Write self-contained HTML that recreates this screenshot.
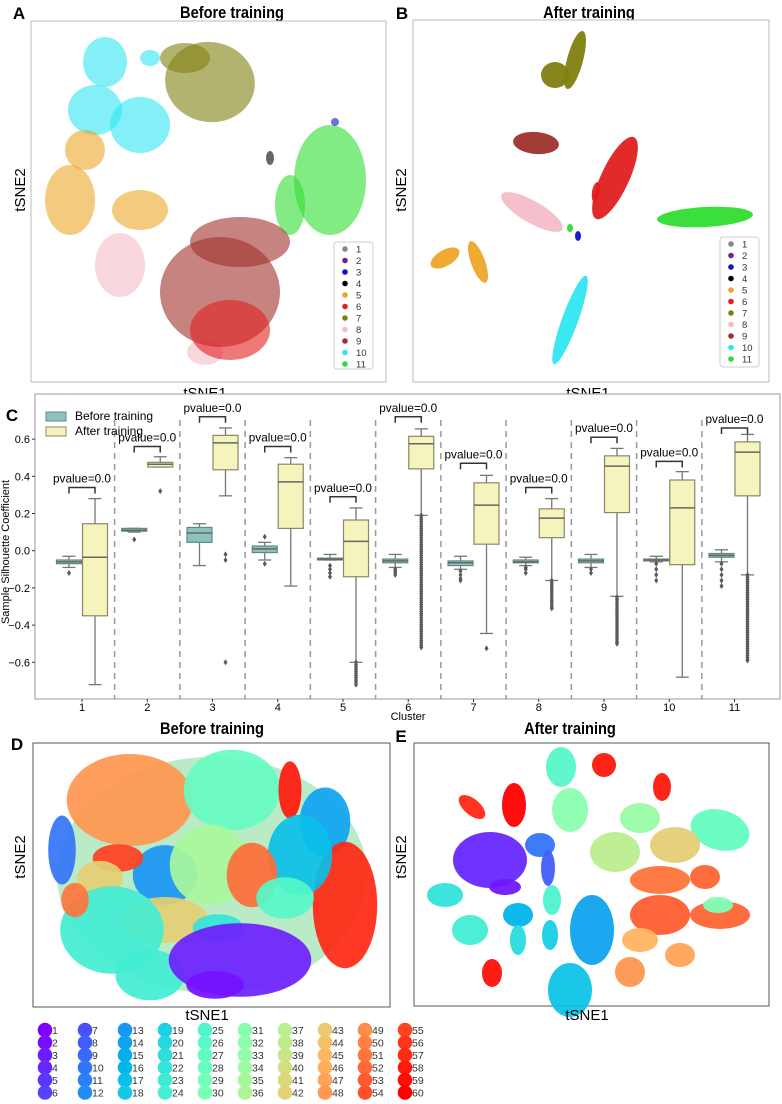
<!DOCTYPE html>
<html><head><meta charset="utf-8">
<style>
html,body{margin:0;padding:0;background:#fff;}
svg{display:block;font-family:"Liberation Sans",sans-serif;}
</style></head>
<body>
<svg id="fig" width="782" height="1104" viewBox="0 0 782 1104" xmlns="http://www.w3.org/2000/svg">
<rect x="0" y="0" width="782" height="1104" fill="#fff"/>
<!-- Panel A -->
<g id="panelA">
<text x="19" y="19" font-size="17" font-weight="bold" text-anchor="middle">A</text>
<text x="232" y="18" font-size="17" font-weight="bold" text-anchor="middle" transform="translate(232 0) scale(0.86 1) translate(-232 0)">Before training</text>
<rect x="31" y="21" width="355" height="361" fill="#fff" stroke="#bbb"/>
<g id="blobsA"></g>
<text x="25" y="190" font-size="15" text-anchor="middle" transform="rotate(-90 25 190)">tSNE2</text>
<text x="205" y="398" font-size="15" text-anchor="middle">tSNE1</text>
<g id="legA"></g>
</g>
<!-- Panel B -->
<g id="panelB">
<text x="402" y="19" font-size="17" font-weight="bold" text-anchor="middle">B</text>
<text x="589" y="18" font-size="17" font-weight="bold" text-anchor="middle" transform="translate(589 0) scale(0.86 1) translate(-589 0)">After training</text>
<rect x="413" y="20" width="356" height="362" fill="#fff" stroke="#bbb"/>
<g id="blobsB"></g>
<text x="406" y="190" font-size="15" text-anchor="middle" transform="rotate(-90 406 190)">tSNE2</text>
<text x="588" y="398" font-size="15" text-anchor="middle">tSNE1</text>
<g id="legB"></g>
</g>
<!-- Panel C -->
<g id="panelC">
<text x="12" y="421" font-size="17" font-weight="bold" text-anchor="middle">C</text>
<rect x="35" y="394" width="745" height="305" fill="#fff" stroke="#999"/>
<g id="boxC"></g>
<text x="9" y="552" font-size="11" text-anchor="middle" transform="rotate(-90 9 552)">Sample Silhouette Coefficient</text>
<text x="408" y="720" font-size="11" text-anchor="middle">Cluster</text>
<g>
<rect x="46" y="412" width="20" height="9" fill="#8cc4bb" stroke="#5e8a84"/>
<text x="75" y="420" font-size="12">Before training</text>
<rect x="46" y="427" width="20" height="9" fill="#f6f4bd" stroke="#8a8766"/>
<text x="75" y="435" font-size="12">After training</text>
</g>
</g>
<!-- Panel D -->
<g id="panelD">
<text x="17" y="750" font-size="17" font-weight="bold" text-anchor="middle">D</text>
<text x="212" y="734" font-size="17" font-weight="bold" text-anchor="middle" transform="translate(212 0) scale(0.86 1) translate(-212 0)">Before training</text>
<rect x="33" y="743" width="357" height="264" fill="#fff" stroke="#555"/>
<ellipse cx="212" cy="875" rx="155" ry="118" fill="#a8e6b8" fill-opacity="0.8"/>
<g id="blobsD"></g>
<text x="25" y="857" font-size="15" text-anchor="middle" transform="rotate(-90 25 857)">tSNE2</text>
<text x="207" y="1020" font-size="15" text-anchor="middle">tSNE1</text>
<g id="legD"></g>
</g>
<!-- Panel E -->
<g id="panelE">
<text x="401" y="742" font-size="17" font-weight="bold" text-anchor="middle">E</text>
<text x="570" y="734" font-size="17" font-weight="bold" text-anchor="middle" transform="translate(570 0) scale(0.86 1) translate(-570 0)">After training</text>
<rect x="414" y="743" width="355" height="263" fill="#fff" stroke="#555"/>
<g id="blobsE"></g>
<text x="406" y="857" font-size="15" text-anchor="middle" transform="rotate(-90 406 857)">tSNE2</text>
<text x="587" y="1020" font-size="15" text-anchor="middle">tSNE1</text>
</g>
</svg>
<script>
var NS="http://www.w3.org/2000/svg";
// ---- Panel C data ----
var clusters=["1","2","3","4","5","6","7","8","9","10","11"];
var beforeQ1=[-0.07,0.105,0.045,-0.01,-0.05,-0.065,-0.08,-0.065,-0.065,-0.055,-0.035];
var beforeMed=[-0.06,0.11,0.095,0.01,-0.045,-0.055,-0.065,-0.06,-0.055,-0.05,-0.025];
var beforeQ3=[-0.05,0.12,0.125,0.025,-0.04,-0.045,-0.055,-0.05,-0.045,-0.045,-0.015];
var beforeLo=[-0.09,0.1,-0.08,-0.05,-0.05,-0.09,-0.1,-0.08,-0.09,-0.06,-0.06];
var beforeHi=[-0.03,0.12,0.145,0.045,-0.02,-0.02,-0.03,-0.035,-0.02,-0.03,0.005];
var beforeOutliers=[[-0.12],[0.06],[],[0.075,-0.07],[-0.08,-0.1,-0.12,-0.14],[-0.1,-0.11,-0.12,-0.13],[-0.11,-0.13,-0.15,-0.16],[-0.09,-0.1,-0.12],[-0.1,-0.12],[-0.07,-0.1,-0.13,-0.16],[-0.07,-0.1,-0.13,-0.16,-0.19]];
var afterQ1=[-0.35,0.45,0.435,0.12,-0.14,0.44,0.035,0.07,0.205,-0.075,0.295];
var afterMed=[-0.035,0.465,0.58,0.37,0.05,0.575,0.245,0.175,0.455,0.23,0.53];
var afterQ3=[0.145,0.475,0.62,0.465,0.165,0.615,0.365,0.225,0.51,0.38,0.585];
var afterLo=[-0.72,0.45,0.295,-0.19,-0.6,0.19,-0.445,-0.16,-0.245,-0.68,-0.13];
var afterHi=[0.28,0.505,0.66,0.5,0.23,0.655,0.405,0.28,0.55,0.425,0.625];
var afterOutliers=[[],[0.32],[-0.02,-0.05,-0.6],[],[],[],[-0.525],[],[],[],[]];
var afterOutlierRuns=[[],[],[],[],[-0.6,-0.72],[0.19,-0.52],[],[-0.16,-0.31],[-0.25,-0.5],[],[-0.13,-0.59]];
var bracketLevel=[0.34,0.56,0.72,0.56,0.29,0.72,0.47,0.34,0.61,0.48,0.66];
var yTicks=[0.6,0.4,0.2,0.0,-0.2,-0.4,-0.6];
var yTickLabels=["0.6","0.4","0.2","0.0","\u22120.2","\u22120.4","\u22120.6"];

function yC(v){return 550.7-v*186;}
function xC(i){return 82+65.25*i;}
function mk(tag,attrs,parent){var e=document.createElementNS(NS,tag);for(var k in attrs)e.setAttribute(k,attrs[k]);parent.appendChild(e);return e;}

var gC=document.getElementById('boxC');
yTicks.forEach(function(v,i){
  var t=mk('line',{x1:32,x2:35,y1:yC(v),y2:yC(v),stroke:'#333'},gC);
  
  
  var l=mk('text',{x:30,y:yC(v)+4,'font-size':11,'text-anchor':'end'},gC);
  l.textContent=yTickLabels[i];
  
  
});
for(var s=0;s<clusters.length-1;s++){
  var d=mk('line',{x1:xC(s)+32.6,x2:xC(s)+32.6,y1:420,y2:699,stroke:'#999','stroke-width':1.5,'stroke-dasharray':'6,5'},gC);
  
  
}
function drawBox(cx,q1,med,q3,lo,hi,fill,edge,name){
  var g=mk('g',{},gC);
  
  
  mk('line',{x1:cx,x2:cx,y1:yC(hi),y2:yC(q3),stroke:'#777','stroke-width':1.3},g);
  mk('line',{x1:cx,x2:cx,y1:yC(q1),y2:yC(lo),stroke:'#777','stroke-width':1.3},g);
  mk('line',{x1:cx-6.5,x2:cx+6.5,y1:yC(hi),y2:yC(hi),stroke:'#777','stroke-width':1.3},g);
  mk('line',{x1:cx-6.5,x2:cx+6.5,y1:yC(lo),y2:yC(lo),stroke:'#777','stroke-width':1.3},g);
  var top=yC(q3),bot=yC(q1);
  mk('rect',{x:cx-12.5,y:top,width:25,height:Math.max(bot-top,1.5),fill:fill,stroke:edge,'stroke-width':1.2},g);
  mk('line',{x1:cx-12.5,x2:cx+12.5,y1:yC(med),y2:yC(med),stroke:'#666','stroke-width':1.5},g);
  return g;
}
function dot(cx,v,g){
  var y=yC(v);
  mk('path',{d:'M'+cx+' '+(y-3)+' L'+(cx+2)+' '+y+' L'+cx+' '+(y+3)+' L'+(cx-2)+' '+y+'Z',fill:'#5a5a5a'},g);
}
clusters.forEach(function(c,i){
  var cb=xC(i)-13, ca=xC(i)+13;
  var gb=drawBox(cb,beforeQ1[i],beforeMed[i],beforeQ3[i],beforeLo[i],beforeHi[i],'#8cc4bb','#5e8a84','box-before-'+c);
  beforeOutliers[i].forEach(function(v){dot(cb,v,gb);});
  var ga=drawBox(ca,afterQ1[i],afterMed[i],afterQ3[i],afterLo[i],afterHi[i],'#f6f4bd','#8a8766','box-after-'+c);
  afterOutliers[i].forEach(function(v){dot(ca,v,ga);});
  var run=afterOutlierRuns[i];
  if(run.length){
    for(var v=run[0];v>=run[1];v-=0.012){dot(ca,v,ga);}
    dot(ca,run[1],ga);
  }
  var by=yC(bracketLevel[i]);
  var br=mk('path',{d:'M'+cb+' '+(by+6)+' V'+by+' H'+ca+' V'+(by+6),fill:'none',stroke:'#333','stroke-width':1.5},gC);
  
  
  var pt=mk('text',{x:xC(i),y:by-5,'font-size':12,'text-anchor':'middle',textLength:58,lengthAdjust:'spacingAndGlyphs'},gC);
  pt.textContent='pvalue=0.0';
  
  
  var xl=mk('text',{x:xC(i),y:711,'font-size':11,'text-anchor':'middle'},gC);
  xl.textContent=c;
  
  
  var xt=mk('line',{x1:xC(i),x2:xC(i),y1:699,y2:702,stroke:'#333'},gC);
  
  
});

// ---- Scatter blobs ----
var colorsAB=['#888888','#7a1f8a','#1010c8','#000000','#eda628','#e21f1f','#808010','#f4bcc8','#a0302c','#30e6f2','#30dd30'];
var labelsAB=["1","2","3","4","5","6","7","8","9","10","11"];
var blobsA=[[105,62,22,25,0,9],[150,58,10,8,0,9],[95,110,27,25,0,9],[140,125,30,28,0,9],[210,82,45,40,10,6],[185,58,25,15,0,6],[85,150,20,20,0,4],[70,200,25,35,0,4],[140,210,28,20,0,4],[330,180,36,55,0,10],[290,205,15,30,0,10],[120,265,25,32,0,7],[205,352,18,13,0,7],[220,292,60,55,0,8],[240,242,50,25,0,8],[230,330,40,30,0,5],[335,122,4,4,0,2],[270,158,4,7,0,3]];
var blobsB=[[575,60,8,30,15,6],[555,75,14,13,0,6],[536,143,23,11,5,8],[615,178,14,45,25,5],[596,192,4,10,10,5],[532,212,35,11,30,7],[705,217,48,10,-3,10],[445,258,16,8,-30,4],[478,262,7,22,-20,4],[570,320,8,47,20,9],[578,236,3,5,0,2],[570,228,3,4,0,10]];
function rainbow(t){
  var r=Math.min(1,Math.abs(2*t-0.5)),g=Math.sin(Math.PI*t),b=Math.cos(Math.PI*t/2);
  return 'rgb('+Math.round(r*255)+','+Math.round(g*255)+','+Math.round(Math.max(0,b)*255)+')';
}
var blobsD=[[130,800,55,40,0,0.8],[232,790,42,35,0,0.45],[290,790,10,25,0,0.97],[325,822,22,30,0,0.22],[345,905,28,55,0,0.95],[300,855,28,35,0,0.27],[165,875,28,26,0,0.2],[118,858,22,12,0,0.92],[62,850,12,30,0,0.15],[100,878,20,15,0,0.7],[165,920,38,20,0,0.7],[210,865,35,35,0,0.58],[252,875,22,28,0,0.86],[112,930,45,38,0,0.38],[150,975,30,22,0,0.38],[285,898,25,18,0,0.42],[218,928,22,12,0,0.35],[240,960,62,32,0,0.04],[215,985,25,12,0,0.02],[75,900,12,15,0,0.85]];
var blobsE=[[561,767,15,20,0,0.42],[604,765,12,12,0,0.97],[662,787,9,14,0,0.97],[472,807,16,8,40,0.95],[514,805,12,22,0,1.0],[570,810,18,22,0,0.52],[640,818,20,15,0,0.55],[720,830,30,20,15,0.45],[490,860,37,28,0,0.05],[505,887,16,8,0,0.03],[540,845,15,12,0,0.15],[548,868,7,18,0,0.12],[675,845,25,18,0,0.7],[615,852,25,20,0,0.62],[660,880,30,14,0,0.85],[705,877,15,12,0,0.87],[660,915,30,20,0,0.88],[720,915,30,14,0,0.87],[445,895,18,12,0,0.35],[470,930,18,15,0,0.38],[518,915,15,12,0,0.25],[592,930,22,35,0,0.22],[552,900,9,15,0,0.4],[518,940,8,15,0,0.33],[550,935,8,15,0,0.3],[570,990,22,27,0,0.28],[492,973,10,14,0,0.98],[640,940,18,12,0,0.75],[630,972,15,15,0,0.8],[680,955,15,12,0,0.78],[718,905,15,8,0,0.5]];
function drawBlobs(id,arr,colFn,op,nm,sc){
  var g=document.getElementById(id);
  arr.forEach(function(b){
    var e=mk('ellipse',{cx:b[0],cy:b[1],rx:b[2]*sc,ry:b[3]*sc,transform:'rotate('+b[4]+' '+b[0]+' '+b[1]+')',fill:colFn(b[5]),'fill-opacity':op},g);
    
    
  });
}
drawBlobs('blobsA',blobsA,function(i){return colorsAB[i];},0.6,'cluster-points',1);
drawBlobs('blobsB',blobsB,function(i){return colorsAB[i];},0.95,'cluster-points',1);
drawBlobs('blobsD',blobsD,rainbow,0.92,'cluster-points',1.15);
drawBlobs('blobsE',blobsE,rainbow,0.95,'cluster-points',1);

function legendAB(id,x,y,h){
  var g=document.getElementById(id);
  mk('rect',{x:x,y:y,width:39,height:h,rx:3,fill:'#fff','fill-opacity':0.9,stroke:'#ccc'},g);
  labelsAB.forEach(function(l,i){
    var yy=y+7+i*11.5;
    var c=mk('circle',{cx:x+11,cy:yy,r:2.8,fill:colorsAB[i]},g);
    
    
    var t=mk('text',{x:x+22,y:yy+3.5,'font-size':9.5,fill:'#333'},g);
    t.textContent=l;
    
    
  });
}
legendAB('legA',334,242,127);
legendAB('legB',720,237,130);

var gD=document.getElementById('legD');
for(var c=0;c<10;c++){
  for(var r=0;r<6;r++){
    var idx=c*6+r+1, cx=45+40*c, cy=1030+12.5*r;
    var ci=mk('circle',{cx:cx,cy:cy,r:7.3,fill:rainbow((idx-1)/59)},gD);
    
    
    var tx=mk('text',{x:cx+7,y:cy+4,'font-size':10.5,fill:'#333'},gD);
    tx.textContent=String(idx);
    
    
  }
}
</script>
</body></html>
